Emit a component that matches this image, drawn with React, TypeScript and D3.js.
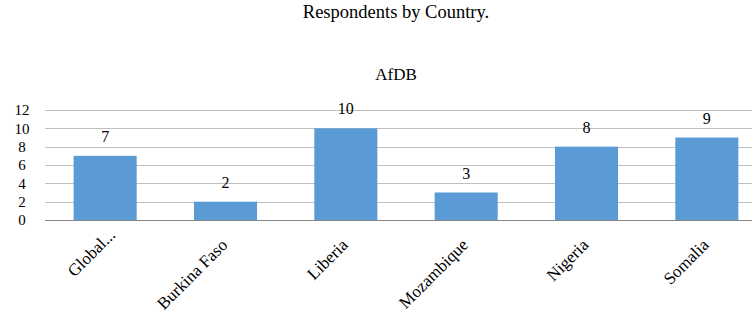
import { useRef, useEffect } from 'react';
import * as d3 from 'd3';

const categories = ['Global...', 'Burkina Faso', 'Liberia', 'Mozambique', 'Nigeria', 'Somalia'];
const respondents = [7, 2, 10, 3, 8, 9];
const yTicks = [0, 2, 4, 6, 8, 10, 12];

const WIDTH = 752;
const HEIGHT = 316;
const PLOT = { left: 45, right: 767, top: 110, bottom: 220 };
const FONT = 'Liberation Serif, DejaVu Serif, serif';

export default function App() {
  const svgRef = useRef<SVGSVGElement>(null);

  useEffect(() => {
    const svg = svgRef.current;
    if (!svg) return;
    const root = d3.select(svg);
    root.selectAll('*').remove();

    const x = d3
      .scaleBand<string>()
      .domain(categories)
      .range([PLOT.left, PLOT.right])
      .paddingInner(0.476)
      .paddingOuter(0.238);

    const y = d3.scaleLinear().domain([0, 12]).range([PLOT.bottom, PLOT.top]);

    // Titles
    root.append('text')
      .attr('x', 396)
      .attr('y', 18)
      .attr('text-anchor', 'middle')
      .style('font-family', FONT)
      .style('font-size', '18.5px')
      .attr('fill', '#000')
      .text('Respondents by Country.');

    root.append('text')
      .attr('x', 396)
      .attr('y', 80)
      .attr('text-anchor', 'middle')
      .style('font-family', FONT)
      .style('font-size', '17px')
      .attr('fill', '#000')
      .text('AfDB');

    // Grid lines
    root.selectAll('.grid')
      .data(yTicks.filter((t) => t !== 0))
      .join('line')
      .attr('x1', PLOT.left)
      .attr('x2', WIDTH)
      .attr('y1', (d) => Math.round(y(d)) + 0.5)
      .attr('y2', (d) => Math.round(y(d)) + 0.5)
      .attr('stroke', '#bfbfbf')
      .attr('stroke-width', 1);

    // Y tick labels
    root.selectAll('.ytick')
      .data(yTicks)
      .join('text')
      .attr('x', 22)
      .attr('y', (d) => y(d))
      .attr('dy', '0.35em')
      .attr('text-anchor', 'middle')
      .style('font-family', FONT)
      .style('font-size', '15px')
      .attr('fill', '#000')
      .text((d) => String(d));

    // Bars
    root.selectAll('.bar')
      .data(respondents)
      .join('rect')
      .attr('x', (_, i) => x(categories[i])!)
      .attr('y', (d) => y(d))
      .attr('width', x.bandwidth())
      .attr('height', (d) => y(0) - y(d))
      .attr('fill', '#5b9bd5');

    // Value labels
    root.selectAll('.val')
      .data(respondents)
      .join('text')
      .attr('x', (_, i) => x(categories[i])! + x.bandwidth() / 2)
      .attr('y', (d) => y(d) - 14)
      .attr('text-anchor', 'middle')
      .style('font-family', FONT)
      .style('font-size', '16px')
      .attr('fill', '#000')
      .text((d) => String(d));

    // Baseline
    root.append('line')
      .attr('x1', PLOT.left)
      .attr('x2', WIDTH)
      .attr('y1', Math.round(y(0)) + 0.5)
      .attr('y2', Math.round(y(0)) + 0.5)
      .attr('stroke', '#868686')
      .attr('stroke-width', 1);

    // Category labels (the truncated one sits a little higher, as in Excel)
    root.selectAll('.xlab')
      .data(categories)
      .join('text')
      .attr('transform', (d) => {
        const cx = x(d)! + x.bandwidth() / 2;
        const short = d.endsWith('...');
        return `translate(${cx + (short ? 11 : 3)},${short ? 236 : 246}) rotate(-45)`;
      })
      .attr('text-anchor', 'end')
      .style('font-family', FONT)
      .style('font-size', '17px')
      .attr('fill', '#000')
      .text((d) => d);
  }, []);

  return (
    <svg
      ref={svgRef}
      width={WIDTH}
      height={HEIGHT}
      style={{ position: 'absolute', left: 0, top: 0, display: 'block', background: '#fff' }}
    />
  );
}
